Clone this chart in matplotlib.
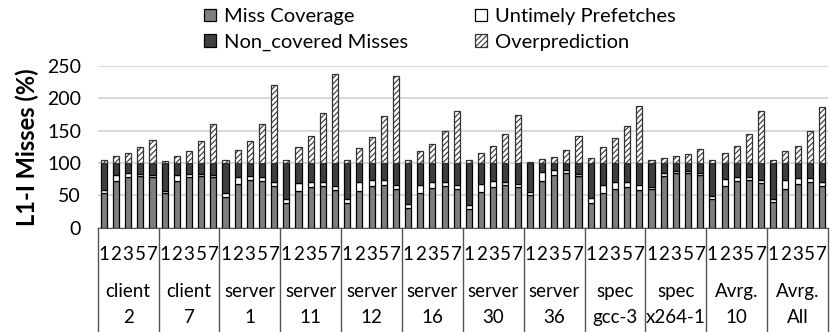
import numpy as np
import matplotlib
matplotlib.use("Agg")
import matplotlib.pyplot as plt

plt.rcParams['font.family'] = ['Lato', 'DejaVu Sans']
plt.rcParams['hatch.linewidth'] = 0.8

groups = [("client", "2"), ("client", "7"), ("server", "1"), ("server", "11"),
          ("server", "12"), ("server", "16"), ("server", "30"), ("server", "36"),
          ("spec", "gcc-3"), ("spec", "x264-1"), ("Avrg.", "10"), ("Avrg.", "All")]
degrees = ["1", "2", "3", "5", "7"]

# values per group, one per prefetch degree
coverage = [
    [53, 72, 78, 80, 79], [53, 72, 79, 80, 79], [47, 68, 73, 72, 64],
    [38, 57, 63, 64, 59], [38, 57, 64, 66, 60], [31, 54, 62, 64, 60],
    [29, 55, 63, 66, 63], [51, 72, 82, 85, 80], [38, 54, 60, 63, 59],
    [60, 80, 84, 84, 82], [44, 64, 72, 74, 69], [40, 60, 68, 71, 64],
]
untimely = [
    [6, 9, 6, 3, 3], [4, 9, 4, 3, 3], [7, 11, 7, 6, 6],
    [7, 12, 8, 7, 6], [7, 14, 9, 7, 6], [6, 12, 9, 6, 6],
    [6, 13, 9, 5, 5], [4, 14, 7, 4, 3], [8, 12, 10, 7, 7],
    [3, 4, 4, 4, 3], [5, 12, 7, 4, 5], [5, 14, 9, 6, 6],
]
non_covered = [
    [41, 19, 16, 17, 18], [43, 19, 17, 17, 18], [46, 21, 20, 22, 30],
    [55, 31, 29, 29, 35], [55, 29, 27, 27, 34], [63, 34, 29, 30, 34],
    [65, 32, 28, 29, 32], [45, 14, 11, 11, 17], [54, 34, 30, 30, 34],
    [37, 16, 12, 12, 15], [51, 24, 21, 22, 26], [55, 26, 23, 23, 30],
]
overprediction = [
    [4, 11, 15, 24, 35], [3, 11, 18, 34, 60], [4, 20, 34, 61, 120],
    [5, 24, 42, 77, 138], [5, 23, 40, 73, 134], [4, 19, 29, 50, 80],
    [4, 16, 27, 45, 74], [1, 6, 9, 20, 41], [7, 24, 38, 57, 88],
    [5, 8, 11, 14, 21], [4, 16, 26, 45, 80], [4, 18, 27, 49, 87],
]

cov = np.array(coverage).ravel()
unt = np.array(untimely).ravel()
nc = np.array(non_covered).ravel()
ovp = np.array(overprediction).ravel()
n = len(cov)
x = np.arange(n)

fig = plt.figure(figsize=(8.3, 3.32), dpi=100)
ax = fig.add_axes([0.1177, 0.3142, 0.8799, 0.4870])

w = 0.5
b1 = ax.bar(x, cov, w, color="#7f7f7f", edgecolor="black", linewidth=0.9,
            label="Miss Coverage", zorder=3)
b2 = ax.bar(x, unt, w, bottom=cov, color="white", edgecolor="black",
            linewidth=0.9, label="Untimely Prefetches", zorder=3)
b3 = ax.bar(x, nc, w, bottom=cov + unt, color="#3f3f3f", edgecolor="black",
            linewidth=0.9, label="Non_covered Misses", zorder=3)
b4 = ax.bar(x, ovp, w, bottom=cov + unt + nc, color="white", edgecolor="#333333",
            hatch="//////", linewidth=0.9, label="Overprediction", zorder=3)

ax.set_xlim(-0.5, n - 0.5)
ax.set_ylim(0, 250)
ax.set_yticks([0, 50, 100, 150, 200, 250])
ax.tick_params(axis="y", length=0, labelsize=14, pad=12)
ax.set_xticks([])
ax.yaxis.grid(True, color="#d9d9d9", linewidth=1.5, zorder=0)
for s in ["top", "right", "left"]:
    ax.spines[s].set_visible(False)
ax.spines["bottom"].set_color("#555555")
ax.set_ylabel("L1-I Misses (%)", fontsize=17, fontweight="bold", labelpad=6)

# table-like category axis under the bars
tr = ax.get_xaxis_transform()
for g in range(len(groups) + 1):
    ax.plot([g * 5 - 0.5, g * 5 - 0.5], [0, -1.0], transform=tr, color="#555555",
            linewidth=1, clip_on=False)
for i in range(n):
    ax.text(i, -0.163, degrees[i % 5], transform=tr, ha="center", va="center",
            fontsize=13.5)
for g, (l1, l2) in enumerate(groups):
    ax.text(g * 5 + 2, -0.397, l1, transform=tr, ha="center", va="center",
            fontsize=13.5)
    ax.text(g * 5 + 2, -0.558, l2, transform=tr, ha="center", va="center",
            fontsize=13.5)

fig.legend(handles=[b1, b3, b2, b4], ncol=2, loc="upper left",
           bbox_to_anchor=(0.224, 1.03), frameon=False, fontsize=14.5,
           handlelength=0.6, handleheight=0.6, handletextpad=0.4,
           columnspacing=3.3, labelspacing=0.42)

fig.savefig("out.png", dpi=100)
